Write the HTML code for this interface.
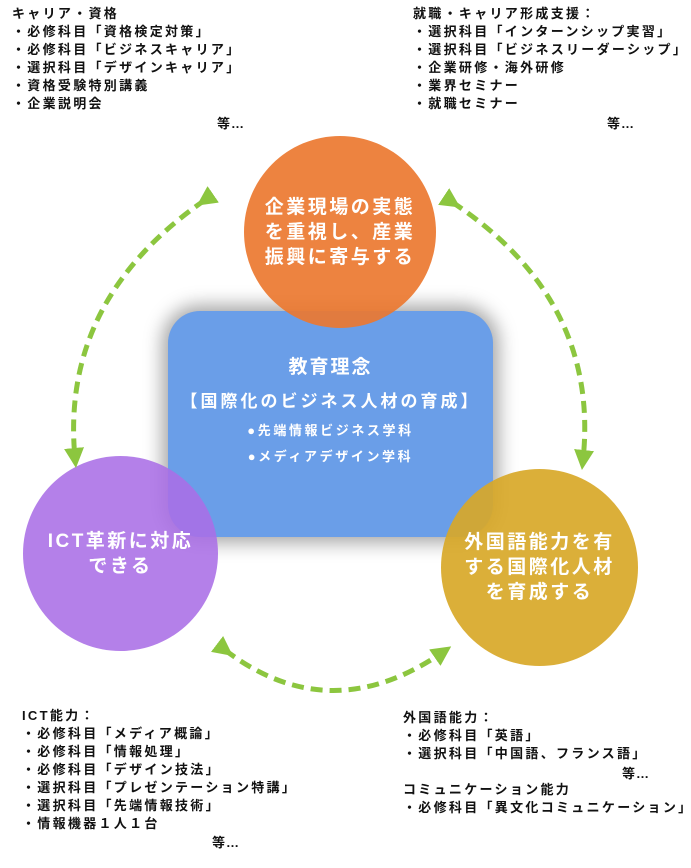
<!DOCTYPE html>
<html><head><meta charset="utf-8"><style>
body{margin:0;width:691px;height:868px;background:#fff;position:relative;overflow:hidden;font-family:"Liberation Sans","Noto Sans CJK JP",sans-serif;}
.t{position:absolute;font-size:13px;letter-spacing:2.3px;font-weight:bold;line-height:18px;color:#111;white-space:pre;}
.e{position:absolute;font-size:13px;font-weight:bold;letter-spacing:1px;color:#111;}
.box{position:absolute;left:168px;top:311px;width:325px;height:226px;border-radius:32px;background:#6a9ee8;box-shadow:0 0 18px 6px rgba(0,0,0,0.35);}
.c{position:absolute;border-radius:50%;color:#fff;font-weight:bold;font-size:19px;letter-spacing:2.5px;line-height:25px;display:flex;align-items:center;justify-content:center;text-align:center;}
</style></head><body>
<div class="t" style="left:12px;top:5px">キャリア・資格
・必修科目「資格検定対策」
・必修科目「ビジネスキャリア」
・選択科目「デザインキャリア」
・資格受験特別講義
・企業説明会</div>
<div class="e" style="left:217px;top:113px">等…</div>
<div class="t" style="left:413px;top:5px">就職・キャリア形成支援：
・選択科目「インターンシップ実習」
・選択科目「ビジネスリーダーシップ」
・企業研修・海外研修
・業界セミナー
・就職セミナー</div>
<div class="e" style="left:607px;top:113px">等…</div>
<div class="t" style="left:22px;top:707px">ICT能力：
・必修科目「メディア概論」
・必修科目「情報処理」
・必修科目「デザイン技法」
・選択科目「プレゼンテーション特講」
・選択科目「先端情報技術」
・情報機器１人１台</div>
<div class="e" style="left:212px;top:832px">等…</div>
<div class="t" style="left:403px;top:709px">外国語能力：
・必修科目「英語」
・選択科目「中国語、フランス語」

コミュニケーション能力
・必修科目「異文化コミュニケーション」</div>
<div class="e" style="left:622px;top:763px">等…</div>
<div class="box"></div>
<div style="position:absolute;left:168px;top:354px;width:325px;text-align:center;color:#fff;font-weight:bold;">
<div style="font-size:19px;letter-spacing:2px;line-height:28px">教育理念</div>
<div style="font-size:17px;letter-spacing:3px;line-height:24px;margin-top:8px">【国際化のビジネス人材の育成】</div>
<div style="font-size:13px;letter-spacing:2.6px;line-height:26px;margin-top:4px">●先端情報ビジネス学科<br>●メディアデザイン学科</div>
</div>
<div class="c" style="left:244px;top:136px;width:192px;height:192px;background:rgba(236,120,48,0.92)">企業現場の実態<br>を重視し、産業<br>振興に寄与する</div>
<div class="c" style="left:23px;top:456px;width:195px;height:195px;background:rgba(170,110,230,0.88)">ICT革新に対応<br>できる</div>
<div class="c" style="left:441px;top:469px;width:197px;height:197px;background:rgba(216,168,40,0.92)">外国語能力を有<br>する国際化人材<br>を育成する</div>
<svg style="position:absolute;left:0;top:0" width="691" height="868">
<defs><marker id="a" markerWidth="4" markerHeight="4" refX="2" refY="2" orient="auto"><path d="M0,0 L4,2 L0,4z" fill="#8cc63f"/></marker></defs>
<g fill="none" stroke="#8cc63f" stroke-width="5" stroke-dasharray="12,7" marker-start="url(#a)" marker-end="url(#a)">
<path d="M205,200 Q60,300 75,458"/>
<path d="M452,202 Q600,300 583,460"/>
<path d="M225,650 Q330,730 443,652"/>
</g></svg>
</body></html>
